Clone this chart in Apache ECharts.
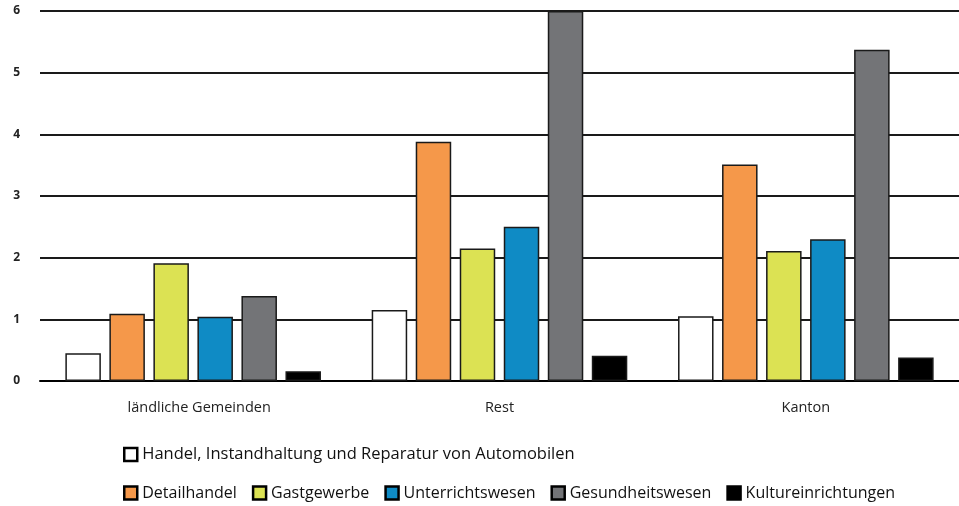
<!DOCTYPE html>
<html><head><meta charset="utf-8">
<script src="https://cdn.jsdelivr.net/npm/echarts@6/dist/echarts.min.js"></script>
<style>html,body{margin:0;padding:0;background:#fff}#c{width:959px;height:506px}</style>
</head><body><div id="c"></div>
<script>
const categories = ['ländliche Gemeinden', 'Rest', 'Kanton'];
const seriesNames = ['Handel, Instandhaltung und Reparatur von Automobilen', 'Detailhandel', 'Gastgewerbe', 'Unterrichtswesen', 'Gesundheitswesen', 'Kultureinrichtungen'];
const handel = [0.45, 1.15, 1.05];
const detailhandel = [1.09, 3.88, 3.51];
const gastgewerbe = [1.91, 2.15, 2.11];
const unterricht = [1.04, 2.50, 2.30];
const gesundheit = [1.38, 6.00, 5.37];
const kultur = [0.16, 0.41, 0.38];
const yTicks = [0, 1, 2, 3, 4, 5, 6];

const values = [handel, detailhandel, gastgewerbe, unterricht, gesundheit, kultur];
const colors = ['#ffffff', '#f5984a', '#dce253', '#0f8bc5', '#737477', '#000000'];
const FONT = 'Open Sans';

const chart = echarts.init(document.getElementById('c'), null, {renderer: 'canvas'});
const legendCommon = {itemWidth: 13, itemHeight: 13, icon: 'rect', padding: 0, itemGap: 15,
  itemStyle: {borderColor: '#000', borderWidth: 2.5}};
chart.setOption({
  animation: false,
  textStyle: {fontFamily: FONT},
  grid: {left: 40, top: 11, width: 928, height: 370, containLabel: false},
  xAxis: {
    type: 'category',
    data: categories.map((c, i) => i === 0 ? {value: c, textStyle: {padding: [0, 0, 0, 12]}} : c),
    axisLine: {show: true, lineStyle: {color: '#000', width: 2}},
    axisTick: {show: false},
    axisLabel: {color: '#222', fontSize: 14.5, margin: 19, fontFamily: FONT}
  },
  yAxis: {
    type: 'value', min: 0, max: 6, interval: 1,
    axisLine: {show: false}, axisTick: {show: false},
    axisLabel: {color: '#222', fontSize: 12, fontWeight: 'bold', margin: 20, fontFamily: FONT,
      formatter: v => yTicks.includes(v) ? String(v) : ''},
    splitLine: {lineStyle: {color: '#1a1a1a', width: 2}}
  },
  legend: [
    Object.assign({data: [seriesNames[0]], left: 123, top: 446,
      textStyle: {fontSize: 16.5, color: '#111', fontFamily: FONT}}, legendCommon),
    Object.assign({data: seriesNames.slice(1), left: 123, top: 485,
      textStyle: {fontSize: 16, color: '#111', fontFamily: FONT}}, legendCommon)
  ],
  series: seriesNames.map((n, i) => ({
    name: n, type: 'bar', data: values[i], barWidth: 35.5, barGap: '24%',
    itemStyle: {color: colors[i], borderColor: '#1a1a1a', borderWidth: 1.5}
  }))
});
</script></body></html>
